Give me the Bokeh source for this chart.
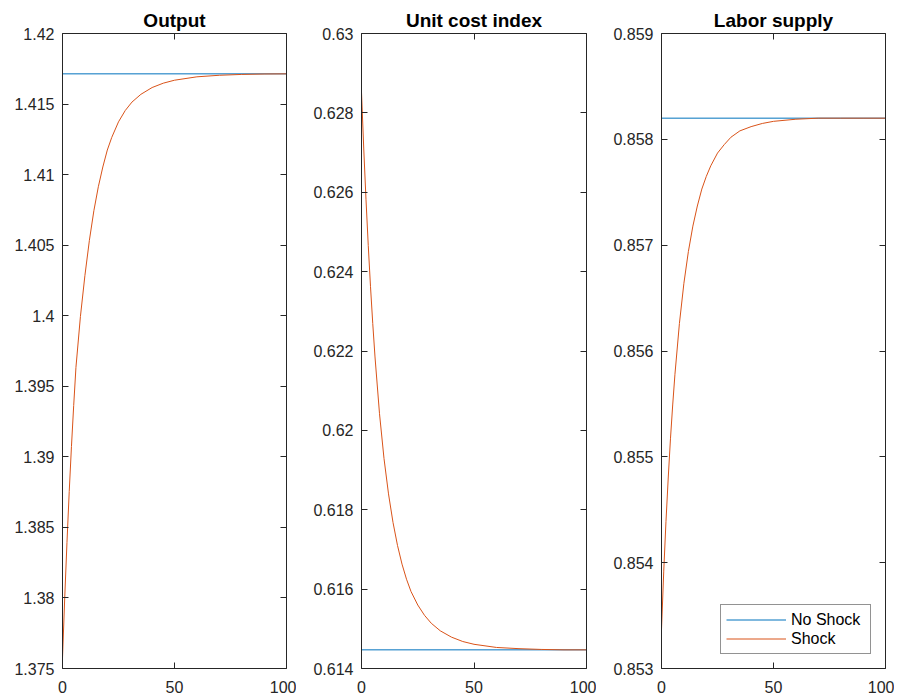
from bokeh.plotting import figure
from bokeh.layouts import row
from bokeh.models import Range1d, LinearAxis, FixedTicker, Legend, LegendItem
from bokeh.embed import file_html
from bokeh.resources import INLINE

# ---- data ----
t = [0, 1, 2, 3, 4, 5, 6, 8, 10, 12, 14, 16, 18, 20, 22, 25, 28, 31, 35, 40, 45, 50, 60, 70, 80, 90, 100]

output_base_t = [0, 100]
output_base = [1.41714, 1.41714]
output_shock = [1.37574, 1.38004, 1.38394, 1.38754, 1.39074, 1.39364, 1.39634, 1.39994, 1.40284,
                1.40534, 1.40744, 1.40914, 1.41054, 1.41174, 1.41264, 1.41374, 1.41454, 1.41514,
                1.41569, 1.41617, 1.41648, 1.41669, 1.41693, 1.41704, 1.41710, 1.41713, 1.41714]

cost_base_t = [0, 100]
cost_base = [0.61447, 0.61447]
cost_shock = [0.62852, 0.62709, 0.62581, 0.62466, 0.62362, 0.62269, 0.62185, 0.62042, 0.61929,
              0.61840, 0.61768, 0.61710, 0.61663, 0.61625, 0.61594, 0.61560, 0.61534, 0.61514,
              0.61495, 0.61479, 0.61468, 0.61461, 0.61453, 0.61450, 0.61448, 0.61447, 0.61447]

labor_base_t = [0, 100]
labor_base = [0.85820, 0.85820]
labor_shock = [0.85337, 0.85392, 0.85439, 0.85480, 0.85517, 0.85549, 0.85578, 0.85626, 0.85664,
               0.85694, 0.85718, 0.85737, 0.85753, 0.85765, 0.85775, 0.85787, 0.85795, 0.85802,
               0.85808, 0.85812, 0.85815, 0.85817, 0.85819, 0.85820, 0.85820, 0.85820, 0.85820]

x_ticks = [0, 50, 100]
output_ticks = [1.375, 1.38, 1.385, 1.39, 1.395, 1.4, 1.405, 1.41, 1.415, 1.42]
cost_ticks = [0.614, 0.616, 0.618, 0.62, 0.622, 0.624, 0.626, 0.628, 0.63]
labor_ticks = [0.853, 0.854, 0.855, 0.856, 0.857, 0.858, 0.859]

titles = ["Output", "Unit cost index", "Labor supply"]
legend_labels = ["No Shock", "Shock"]

BLUE = "#0072BD"
ORANGE = "#D95319"
AX = "#262626"
FONT = "Liberation Sans"


def fmt(v):
    return ("%g" % v)


def mirror_axis(ticks):
    return LinearAxis(ticker=FixedTicker(ticks=ticks), major_label_text_font_size="0px",
                      major_label_text_color=None, major_label_text_alpha=0,
                      major_label_standoff=0, major_tick_in=6, major_tick_out=0,
                      minor_tick_line_color=None, axis_line_color=AX, major_tick_line_color=AX)


def make_panel(title, base_t, base, shock, yticks, left, fw, right, legend=False):
    p = figure(frame_width=fw, frame_height=635, min_border_left=left, min_border_right=right,
               min_border_top=33, min_border_bottom=30,
               x_range=Range1d(0, 100), y_range=Range1d(yticks[0], yticks[-1]),
               output_backend="svg", toolbar_location=None, title=title)
    p.background_fill_color = "white"
    p.border_fill_color = "white"
    p.outline_line_color = None
    p.xgrid.visible = False
    p.ygrid.visible = False
    p.title.text_font = FONT
    p.title.text_font_size = "19px"
    p.title.text_font_style = "bold"
    p.title.text_color = "#000000"
    p.title.align = "center"
    p.title.standoff = 6

    r1 = p.line(base_t, base, line_color=BLUE, line_width=1)
    r2 = p.line(t, shock, line_color=ORANGE, line_width=1)

    for ax in p.xaxis:
        ax.ticker = FixedTicker(ticks=x_ticks)
        ax.major_label_overrides = {v: fmt(v) for v in x_ticks}
        ax.major_label_standoff = 12
    for ax in p.yaxis:
        ax.ticker = FixedTicker(ticks=yticks)
        ax.major_label_overrides = {v: fmt(v) for v in yticks}
        ax.major_label_standoff = 8
    for ax in list(p.xaxis) + list(p.yaxis):
        ax.major_tick_in = 6
        ax.major_tick_out = 0
        ax.minor_tick_line_color = None
        ax.axis_line_color = AX
        ax.major_tick_line_color = AX
        ax.major_label_text_font = FONT
        ax.major_label_text_font_size = "16px"
        ax.major_label_text_color = AX

    p.add_layout(mirror_axis(x_ticks), "above")
    p.add_layout(mirror_axis(yticks), "right")

    if legend:
        lg = Legend(items=[LegendItem(label=legend_labels[0], renderers=[r1]),
                           LegendItem(label=legend_labels[1], renderers=[r2])],
                    location="bottom_right", margin=14, padding=5, spacing=0,
                    label_height=19, glyph_height=19, glyph_width=60, label_width=74,
                    label_standoff=5, label_text_font=FONT, label_text_font_size="16px",
                    label_text_color="#000000",
                    border_line_color=AX, border_line_width=1, background_fill_color="white",
                    background_fill_alpha=1.0)
        p.add_layout(lg, "center")
    return p


p1 = make_panel(titles[0], output_base_t, output_base, output_shock, output_ticks, 62, 224, 10)
p2 = make_panel(titles[1], cost_base_t, cost_base, cost_shock, cost_ticks, 65, 225, 10)
p3 = make_panel(titles[2], labor_base_t, labor_base, labor_shock, labor_ticks, 65, 224, 9, legend=True)

layout = row(p1, p2, p3)
open("out.html", "w").write(file_html(layout, INLINE))
